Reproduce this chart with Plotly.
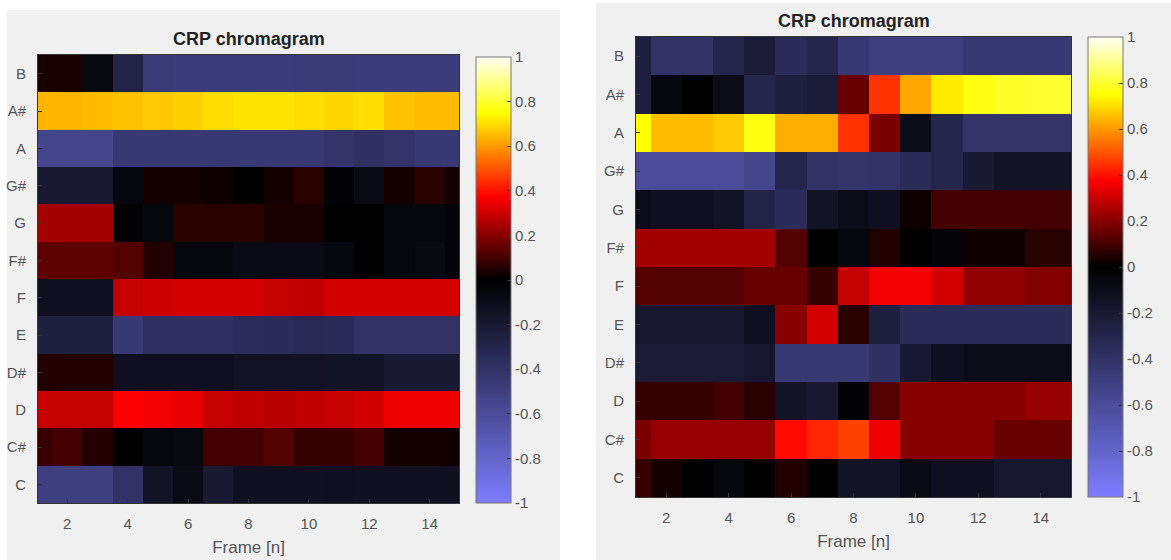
import plotly.graph_objects as go

# Pitch classes, listed from the top row (B) to the bottom row (C)
pitches = ["B", "A#", "A", "G#", "G", "F#", "F", "E", "D#", "D", "C#", "C"]
frames = list(range(1, 16))

# CRP chroma values per pitch class (rows follow `pitches`), first recording
crp_first = [
    [0.04, 0.04, -0.06, -0.28, -0.47, -0.48, -0.48, -0.48, -0.48, -0.47, -0.47, -0.48, -0.48, -0.48, -0.48],
    [0.64, 0.64, 0.65, 0.66, 0.67, 0.68, 0.70, 0.71, 0.71, 0.70, 0.69, 0.70, 0.66, 0.65, 0.65],
    [-0.55, -0.55, -0.55, -0.45, -0.45, -0.45, -0.45, -0.45, -0.45, -0.45, -0.42, -0.38, -0.42, -0.45, -0.45],
    [-0.20, -0.20, -0.20, -0.05, 0.03, 0.03, 0.02, 0.00, 0.03, 0.06, -0.02, -0.08, 0.03, 0.06, 0.03],
    [0.24, 0.24, 0.24, -0.02, -0.05, 0.06, 0.06, 0.06, 0.04, 0.04, 0.00, 0.00, -0.05, -0.05, -0.03],
    [0.14, 0.14, 0.14, 0.12, 0.05, -0.05, -0.05, -0.08, -0.08, -0.08, -0.05, 0.00, -0.05, -0.06, -0.03],
    [-0.12, -0.12, -0.12, 0.29, 0.30, 0.31, 0.31, 0.31, 0.29, 0.28, 0.31, 0.31, 0.31, 0.31, 0.31],
    [-0.25, -0.25, -0.25, -0.45, -0.38, -0.38, -0.38, -0.36, -0.35, -0.33, -0.35, -0.40, -0.40, -0.40, -0.40],
    [0.05, 0.05, 0.05, -0.12, -0.12, -0.12, -0.12, -0.14, -0.14, -0.14, -0.15, -0.15, -0.20, -0.20, -0.20],
    [0.29, 0.29, 0.29, 0.37, 0.36, 0.34, 0.29, 0.28, 0.27, 0.28, 0.29, 0.31, 0.35, 0.35, 0.35],
    [0.08, 0.10, 0.05, 0.00, -0.05, -0.06, 0.10, 0.10, 0.12, 0.08, 0.08, 0.10, 0.03, 0.03, 0.02],
    [-0.50, -0.50, -0.50, -0.40, -0.15, -0.08, -0.20, -0.13, -0.13, -0.13, -0.12, -0.13, -0.13, -0.13, -0.13],
]

# CRP chroma values per pitch class (rows follow `pitches`), second recording
crp_second = [
    [-0.25, -0.40, -0.40, -0.30, -0.22, -0.35, -0.30, -0.45, -0.50, -0.50, -0.50, -0.45, -0.45, -0.45, -0.45],
    [-0.25, -0.05, 0.00, -0.10, -0.30, -0.25, -0.22, 0.15, 0.45, 0.62, 0.72, 0.77, 0.79, 0.80, 0.80],
    [0.75, 0.65, 0.65, 0.67, 0.77, 0.63, 0.63, 0.45, 0.18, -0.10, -0.30, -0.42, -0.42, -0.42, -0.42],
    [-0.60, -0.60, -0.60, -0.60, -0.55, -0.30, -0.40, -0.42, -0.40, -0.35, -0.30, -0.20, -0.15, -0.15, -0.15],
    [-0.10, -0.12, -0.12, -0.15, -0.28, -0.35, -0.15, -0.10, -0.12, 0.02, 0.10, 0.10, 0.10, 0.10, 0.10],
    [0.24, 0.24, 0.24, 0.24, 0.24, 0.12, 0.00, -0.05, 0.05, 0.00, -0.03, 0.02, 0.02, 0.06, 0.06],
    [0.12, 0.12, 0.12, 0.12, 0.15, 0.15, 0.08, 0.29, 0.36, 0.36, 0.31, 0.21, 0.21, 0.19, 0.19],
    [-0.18, -0.18, -0.18, -0.18, -0.12, 0.20, 0.31, 0.06, -0.25, -0.35, -0.35, -0.35, -0.35, -0.35, -0.35],
    [-0.22, -0.22, -0.22, -0.22, -0.18, -0.45, -0.45, -0.45, -0.38, -0.20, -0.12, -0.10, -0.10, -0.10, -0.10],
    [0.08, 0.08, 0.08, 0.10, 0.06, -0.15, -0.20, -0.02, 0.12, 0.20, 0.20, 0.20, 0.20, 0.22, 0.22],
    [0.18, 0.22, 0.22, 0.22, 0.22, 0.39, 0.43, 0.47, 0.35, 0.20, 0.20, 0.20, 0.15, 0.15, 0.15],
    [0.08, 0.03, 0.00, -0.05, 0.00, 0.05, 0.00, -0.15, -0.15, -0.08, -0.12, -0.12, -0.18, -0.18, -0.18],
]

cbar_vals = [1, 0.8, 0.6, 0.4, 0.2, 0, -0.2, -0.4, -0.6, -0.8, -1]
cbar_text = ["1", "0.8", "0.6", "0.4", "0.2", "0", "-0.2", "-0.4", "-0.6", "-0.8", "-1"]

# blue ramp for negative values, "hot" ramp for positive values
colorscale = [
    [0.0, "rgb(125,125,255)"],
    [0.5, "rgb(0,0,0)"],
    [0.6875, "rgb(255,0,0)"],
    [0.875, "rgb(255,255,0)"],
    [1.0, "rgb(255,255,245)"],
]

W, H = 1171, 560
TXT = "#555555"
FONT = "Liberation Sans, Arial, sans-serif"


def px_x(p):
    return p / W


def px_y(p):
    return 1 - p / H


# pixel boxes: (left, top, right, bottom)
panels = [
    dict(z=crp_first, bg=(7, 10, 560, 560), plot=(38, 55, 459, 503), cbar=(476, 57, 511, 503)),
    dict(z=crp_second, bg=(596, 3, 1171, 560), plot=(636, 37, 1071, 497), cbar=(1088, 37, 1123, 497)),
]

fig = go.Figure()
shapes, annotations = [], []
layout = dict(
    width=W, height=H,
    margin=dict(l=0, r=0, t=0, b=0),
    paper_bgcolor="white", plot_bgcolor="black",
    font=dict(family=FONT, size=15, color=TXT),
)

for i, p in enumerate(panels, start=1):
    sfx = "" if i == 1 else str(i)
    l, t, r, b = p["plot"]
    cl, ct, cr, cb = p["cbar"]
    bl, bt, br, bb = p["bg"]

    shapes.append(dict(type="rect", xref="paper", yref="paper", layer="below",
                       x0=px_x(bl), x1=px_x(br), y0=px_y(bb), y1=px_y(bt),
                       fillcolor="#f0f0f0", line=dict(width=0)))

    fig.add_trace(go.Heatmap(
        z=p["z"], x=frames, y=pitches,
        coloraxis="coloraxis" + sfx,
        xaxis="x" + sfx, yaxis="y" + sfx,
    ))

    layout["xaxis" + sfx] = dict(
        domain=[px_x(l), px_x(r)], anchor="y" + sfx,
        range=[1.03, 14.97], tickvals=[2, 4, 6, 8, 10, 12, 14],
        ticks="inside", ticklen=4, tickcolor="#333", tickfont=dict(size=15, color=TXT),
        ticklabelstandoff=7,
        showline=True, linecolor="#333", linewidth=1, mirror=True,
        showgrid=False, zeroline=False,
        title=dict(text="Frame [n]", font=dict(size=17, color=TXT), standoff=10),
    )
    layout["yaxis" + sfx] = dict(
        domain=[px_y(b), px_y(t)], anchor="x" + sfx,
        type="category", autorange="reversed",
        ticks="inside", ticklen=4, tickcolor="#333", tickfont=dict(size=15, color=TXT),
        ticklabelstandoff=8,
        showline=True, linecolor="#333", linewidth=1, mirror=True,
        showgrid=False, zeroline=False,
    )
    layout["coloraxis" + sfx] = dict(
        cmin=-1, cmax=1, colorscale=colorscale,
        colorbar=dict(
            x=px_x(cl), xanchor="left", xpad=0,
            y=px_y((ct + cb) / 2), yanchor="middle", ypad=0,
            len=(cb - ct) / H, lenmode="fraction",
            thickness=cr - cl, thicknessmode="pixels",
            outlinewidth=1, outlinecolor="#777",
            tickvals=cbar_vals, ticktext=cbar_text,
            ticks="inside", ticklen=4, tickcolor="#333",
            tickfont=dict(size=15, color=TXT),
        ),
    )
    annotations.append(dict(
        text="<b>CRP chromagram</b>", xref="paper", yref="paper",
        x=px_x((l + r) / 2), y=px_y(t - 4), xanchor="center", yanchor="bottom",
        showarrow=False, font=dict(size=18, color="#222222", family=FONT),
    ))

layout["shapes"] = shapes
layout["annotations"] = annotations
fig.update_layout(**layout)

fig.write_html("out.html")
